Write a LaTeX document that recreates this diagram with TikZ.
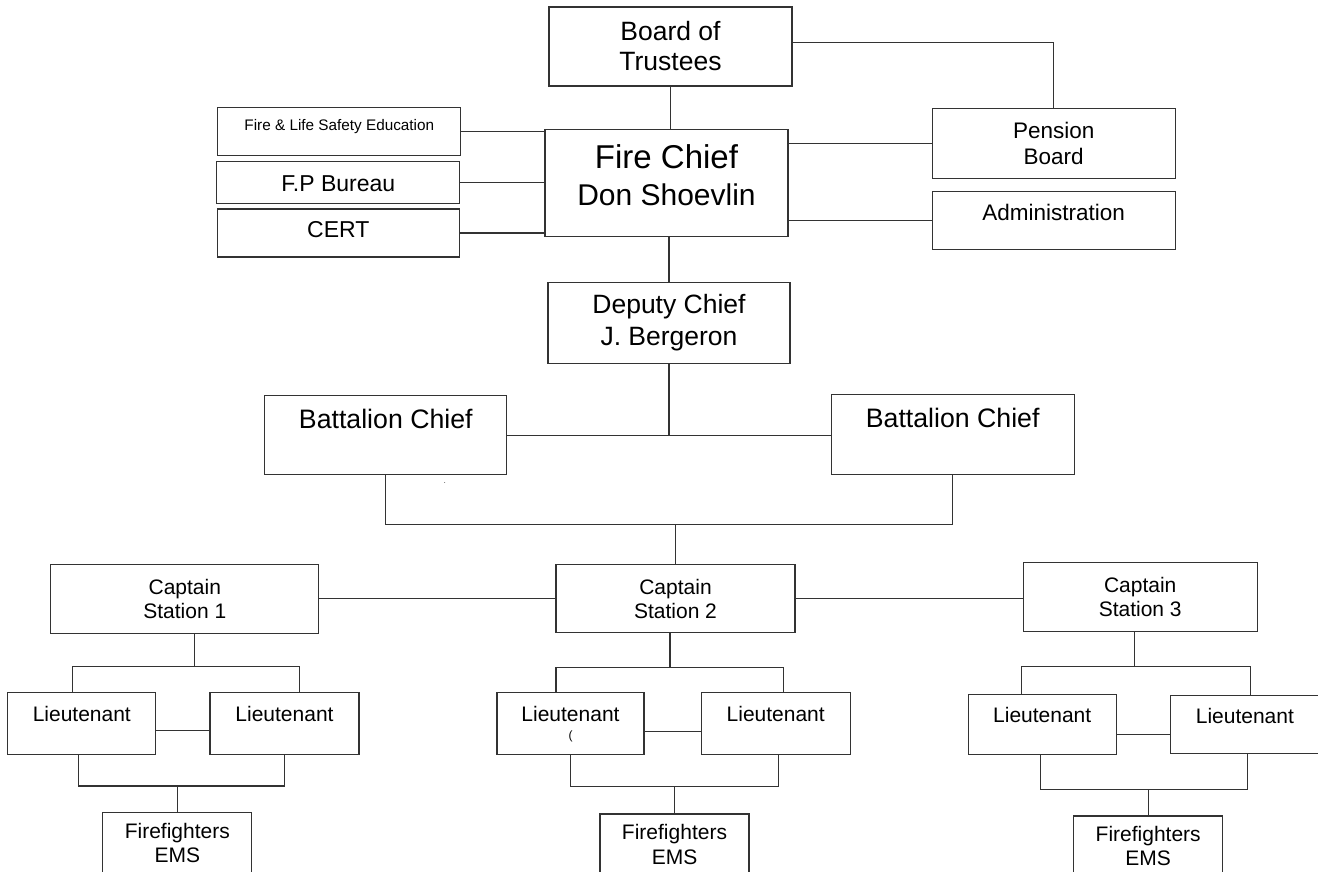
\documentclass[tikz,border=0pt]{standalone}
\usepackage{fontspec}
\setmainfont{Liberation Sans}
\usepackage{tikz}
\usetikzlibrary{positioning}
\definecolor{inkline}{RGB}{51,51,51}

\begin{document}
\begin{tikzpicture}[
    box/.style={rectangle, draw=inkline, line width=1.2pt, align=center, inner sep=0pt, minimum width=243pt},
    capt/.style={box, minimum height=69pt, font=\fontsize{21}{24}\selectfont},
    lt/.style={box, minimum width=148pt, text height=29pt, text depth=33pt, font=\fontsize{21}{24}\selectfont},
    ff/.style={box, minimum width=149pt, minimum height=61pt, font=\fontsize{21}{24.5}\selectfont},
    link/.style={draw=inkline, line width=1.2pt}
]
\useasboundingbox (0,0) rectangle (1318pt,-871pt);

% Command
\node[box, minimum height=79pt, font=\fontsize{26.5}{30}\selectfont] (board) at (670.5pt,-46.5pt) {Board of\\Trustees};
\node[box, below=42pt of board, xshift=-4pt, text height=76pt, text depth=31pt, font=\fontsize{30}{37}\selectfont] (chief) {{\fontsize{33}{37}\selectfont Fire Chief}\\Don Shoevlin};

% Staff
\node[box, left=84pt of chief, text height=30pt, text depth=12pt, font=\fontsize{23}{26}\selectfont] (fpb) {F.P Bureau};
\node[box, above=5pt of fpb, xshift=1pt, text height=23pt, text depth=25pt, font=\fontsize{15.3}{18}\selectfont] (fls) {Fire \& Life Safety Education};
\node[box, below=4pt of fpb, minimum width=242pt, text height=29pt, text depth=19pt, font=\fontsize{23}{26}\selectfont] (cert) {CERT};
\node[box, right=143pt of chief, yshift=39.5pt, minimum height=70pt, font=\fontsize{22.5}{26}\selectfont] (pension) {Pension\\Board};
\node[box, below=12pt of pension, text height=29pt, text depth=29pt, font=\fontsize{22.5}{26}\selectfont] (admin) {Administration};

% Operations
\node[box, below=45pt of chief, xshift=2.5pt, minimum width=242pt, minimum height=81pt, font=\fontsize{26.5}{32}\selectfont] (deputy) {Deputy Chief\\J. Bergeron};
\node[box, below left=31pt and 40pt of deputy, minimum width=242pt, text height=33pt, text depth=46pt, font=\fontsize{26.7}{30}\selectfont] (bcl) {Battalion Chief};
\node[box, below right=30pt and 40pt of deputy, text height=33pt, text depth=47pt, font=\fontsize{26.7}{30}\selectfont] (bcr) {Battalion Chief};
\node[font=\fontsize{7}{7}\selectfont, anchor=base] (speck) at ([xshift=59pt,yshift=-8pt]bcl.south) {.};

% Stations
\node[capt, below=200pt of deputy, xshift=6.5pt, minimum width=239pt, minimum height=68pt] (cap2) {Captain\\Station 2};
\node[capt, left=236pt of cap2, minimum width=268pt] (cap1) {Captain\\Station 1};
\node[capt, right=227pt of cap2, yshift=1.5pt, minimum width=234pt] (cap3) {Captain\\Station 3};

\node[lt, below=58pt of cap1, xshift=-103pt] (lt1a) {Lieutenant};
\node[lt, right=53pt of lt1a, minimum width=149pt] (lt1b) {Lieutenant};
\node[lt, below=59pt of cap2, xshift=-105pt, minimum width=147pt, text height=47pt, text depth=15pt] (lt2a) {Lieutenant\\[-6pt]{\fontsize{12}{12}\selectfont (}};
\node[lt, right=56pt of lt2a, minimum width=149pt] (lt2b) {Lieutenant};
\node[lt, below=62pt of cap3, xshift=-98pt, text height=28pt, text depth=32pt] (lt3a) {Lieutenant};
\node[lt, right=53pt of lt3a, minimum width=149pt, text height=28pt, text depth=30pt] (lt3b) {Lieutenant};

\node[ff, below=57pt of lt1a, xshift=95.5pt] (ff1) {Firefighters\\EMS};
\node[ff, below=58pt of lt2a, xshift=104pt] (ff2) {Firefighters\\EMS};
\node[ff, below=60pt of lt3a, xshift=106pt, minimum height=60pt] (ff3) {Firefighters\\EMS};

% Bus points
\coordinate (bcbus) at ([yshift=-49pt]bcl.south);
\coordinate (s1top) at ([xshift=10pt,yshift=-33pt]cap1.south);
\coordinate (s2top) at ([xshift=-5.5pt,yshift=-34pt]cap2.south);
\coordinate (s3top) at ([xshift=-6pt,yshift=-34pt]cap3.south);
\coordinate (s1low) at ([yshift=26pt]ff1.north);
\coordinate (s2low) at ([yshift=27pt]ff2.north);
\coordinate (s3low) at ([yshift=26pt]ff3.north);

% Lines
\draw[link] (board.south) -- (board.south |- chief.north);
\draw[link] ([yshift=4pt]board.east) -| (pension.north);
\draw[link] (fls.east) -- (fls.east -| chief.west);
\draw[link] (fpb.east) -- (fpb.east -| chief.west);
\draw[link] (cert.east) -- (cert.east -| chief.west);
\draw[link] (pension.west) -- (pension.west -| chief.east);
\draw[link] (admin.west) -- (admin.west -| chief.east);
\draw[link] (deputy.north) -- (deputy.north |- chief.south);
\draw[link] (deputy.south) -- (deputy.south |- bcl.east);
\draw[link] (bcl.east) -- (bcl.east -| bcr.west);
\draw[link] (bcl.south) -- (bcbus) -| (bcr.south);
\draw[link] (cap2.north) -- (cap2.north |- bcbus);
\draw[link] (cap1.east) -- (cap2.west);
\draw[link] (cap2.east) -- (cap2.east -| cap3.west);

\draw[link] (s1top |- cap1.south) -- (s1top);
\draw[link] ([xshift=-9pt]lt1a.north) |- ([xshift=15pt]lt1b.north |- s1top) -- ([xshift=15pt]lt1b.north);
\draw[link] ([yshift=-7pt]lt1a.east) -- ([yshift=-7pt]lt1b.west);
\draw[link] ([xshift=-3pt]lt1a.south) |- (s1low -| lt1b.south) -- (lt1b.south);
\draw[link] (ff1.north) -- (s1low);

\draw[link] (s2top |- cap2.south) -- (s2top);
\draw[link] ([xshift=-14.5pt]lt2a.north) |- ([xshift=7.5pt]lt2b.north |- s2top) -- ([xshift=7.5pt]lt2b.north);
\draw[link] ([yshift=-8pt]lt2a.east) -- ([yshift=-8pt]lt2b.west);
\draw[link] (lt2a.south) |- ([xshift=2.5pt]s2low -| lt2b.south) -- ([xshift=2.5pt]lt2b.south);
\draw[link] (ff2.north) -- (s2low);

\draw[link] (s3top |- cap3.south) -- (s3top);
\draw[link] ([xshift=-21pt]lt3a.north) |- ([xshift=5.5pt]lt3b.north |- s3top) -- ([xshift=5.5pt]lt3b.north);
\draw[link] ([yshift=-10pt]lt3a.east) -- ([yshift=-10pt]lt3b.west);
\draw[link] ([xshift=-2pt]lt3a.south) |- ([xshift=2.5pt]s3low -| lt3b.south) -- ([xshift=2.5pt]lt3b.south);
\draw[link] (ff3.north) -- (s3low);

\end{tikzpicture}
\end{document}
